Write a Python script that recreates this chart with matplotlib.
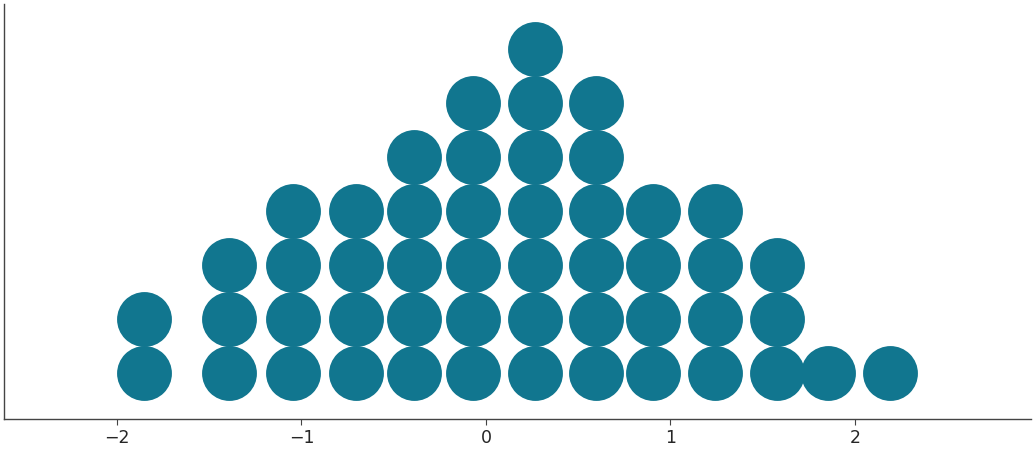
import numpy as np
import matplotlib
matplotlib.use("Agg")
from matplotlib import pyplot as plt

# column positions and how many dots are stacked in each
x_pos = [-1.854, -1.393, -1.046, -0.705, -0.390, -0.070, 0.266,
         0.596, 0.905, 1.241, 1.577, 1.854, 2.190]
counts = [2, 3, 4, 4, 5, 6, 7, 6, 4, 4, 3, 1, 1]
xticks = [-2, -1, 0, 1, 2]

xs, ys = [], []
for x, n in zip(x_pos, counts):
    for k in range(n):
        xs.append(x)
        ys.append(k)

fig = plt.figure(figsize=(10.35, 4.5), dpi=100)
ax = fig.add_axes([4 / 1035, 31 / 450, 1027 / 1035, 415 / 450])

ax.scatter(xs, ys, s=1560, color="#11768f", linewidths=0)

ax.set_xlim(-2.612, 2.954)
ax.set_ylim(-0.852, -0.852 + 415 / 54)
ax.set_xticks(xticks)
ax.set_xticklabels(["\u22122", "\u22121", "0", "1", "2"])
ax.set_yticks([])
ax.tick_params(axis="x", length=4, width=0.8, colors="#444444",
               labelsize=12.5, labelcolor="#262626")
for side in ["top", "right"]:
    ax.spines[side].set_visible(False)
for side in ["left", "bottom"]:
    ax.spines[side].set_color("#444444")
    ax.spines[side].set_linewidth(1.0)

fig.savefig("out.png", dpi=100)
